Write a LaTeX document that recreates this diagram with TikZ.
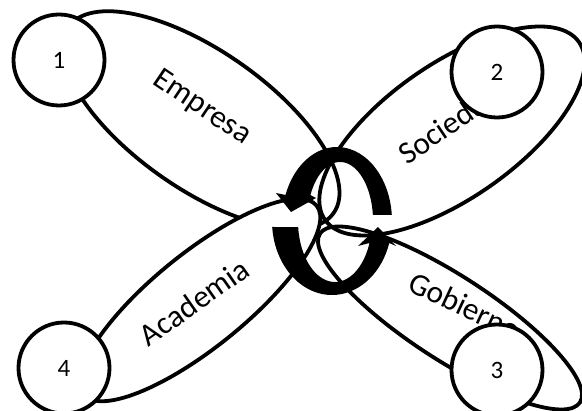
\documentclass[tikz,border=0pt]{standalone}
\usepackage{fontspec}
\setmainfont{Carlito}
\usetikzlibrary{shapes.geometric}
\begin{document}
\begin{tikzpicture}[x=1pt,y=-1pt,
  petal/.style={draw, ellipse, line width=3.8pt, inner sep=0pt},
  lab/.style={inner sep=0pt, font=\fontsize{31.5}{34}\selectfont},
  num/.style={draw, circle, fill=white, line width=3.8pt, minimum size=91pt, inner sep=0pt, font=\fontsize{25}{28}\selectfont},
  cyc/.style={fill=black}]
\useasboundingbox (0,0) rectangle (582,411);
% petals
\node[petal, minimum width=324pt, minimum height=138pt, rotate=-35] (emp) at (201,120) {};
\node[petal, minimum width=310pt, minimum height=134pt, rotate=35] (soc) at (452,131) {};
\node[petal, minimum width=310pt, minimum height=84pt, rotate=-33] (gob) at (450,318) {};
\node[petal, fill=white, minimum width=300pt, minimum height=94pt, rotate=39] (aca) at (200,300) {};
% labels
\node[lab, rotate=-34] (tE) at (202,108) {Empresa};
\node[lab, rotate=34] (tS) at (449,124) {Sociedad};
\node[lab, rotate=-25] (tG) at (465,306) {Gobierno};
\node[lab, rotate=35] (tA) at (194,302) {Academia};
% numbered circles
\node[num] (n1) at (59,60) {1};
\node[num] (n2) at (497,72) {2};
\node[num] (n3) at (497,370) {3};
\node[num] (n4) at (64,368) {4};
% cycle arrows
\fill[cyc] (391.8,215) arc[start angle=-4.65, end angle=-159.4, x radius=55, y radius=74]
  -- (276,193) -- (291,212) -- (316,198) -- (310.4,195)
  arc[start angle=-153.9, end angle=-5.84, x radius=33, y radius=59] -- cycle;
\fill[cyc] (272.2,227) arc[start angle=175.35, end angle=17.3, x radius=60, y radius=74]
  -- (396,246) -- (378,227) -- (358,246) -- (369.5,243)
  arc[start angle=21.1, end angle=174.35, x radius=37, y radius=61] -- cycle;
\end{tikzpicture}
\end{document}
